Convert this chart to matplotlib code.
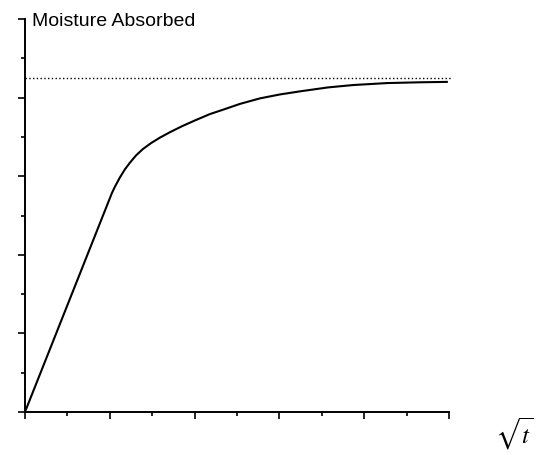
import matplotlib
matplotlib.use("Agg")
import matplotlib.pyplot as plt
from matplotlib.ticker import MultipleLocator

# Moisture uptake against root time: linear Fickian start, then levelling off
sqrt_t = [0.0, 2.05, 2.12, 2.24, 2.36, 2.48, 2.62, 2.78, 2.97, 3.18, 3.42,
          3.70, 4.01, 4.36, 4.72, 5.07, 5.54, 6.01, 6.49, 7.15, 7.74, 8.54,
          9.32, 9.95]
absorbed = [0.0, 5.57, 5.73, 5.97, 6.18, 6.35, 6.53, 6.69, 6.84, 6.98, 7.12,
            7.27, 7.42, 7.58, 7.71, 7.84, 7.98, 8.08, 8.16, 8.26, 8.32, 8.37,
            8.39, 8.40]

# equilibrium (saturation) level
saturation = 8.5
saturation_span = [0.0, 10.07]

plt.rcParams["font.family"] = ["Liberation Sans", "DejaVu Sans"]
plt.rcParams["mathtext.fontset"] = "stix"

fig = plt.figure(figsize=(5.36, 4.56), dpi=100)
ax = fig.add_axes([0.0466, 0.0943, 0.791, 0.8618])

ax.plot(sqrt_t, absorbed, color="black", lw=1.5, solid_joinstyle="round")
ax.plot(saturation_span, [saturation, saturation], color="black", lw=1.0,
        linestyle=(0, (1, 1.7)), clip_on=False)

ax.set_xlim(0, 10)
ax.set_ylim(0, 10)

for side in ("top", "right"):
    ax.spines[side].set_visible(False)
for side in ("left", "bottom"):
    ax.spines[side].set_linewidth(1.4)

ax.xaxis.set_major_locator(MultipleLocator(2))
ax.xaxis.set_minor_locator(MultipleLocator(1))
ax.yaxis.set_major_locator(MultipleLocator(2))
ax.yaxis.set_minor_locator(MultipleLocator(1))
ax.tick_params(which="major", direction="out", length=5, width=1.2)
ax.tick_params(which="minor", direction="out", length=3, width=1.2)
ax.tick_params(which="both", labelbottom=False, labelleft=False)

fig.text(0.060, 0.942, "Moisture Absorbed", fontsize=14, ha="left",
         va="baseline")
fig.text(0.996, 0.028, r"$\sqrt{t}$", fontsize=18, ha="right",
         va="baseline")

fig.savefig("out.png", dpi=100)
